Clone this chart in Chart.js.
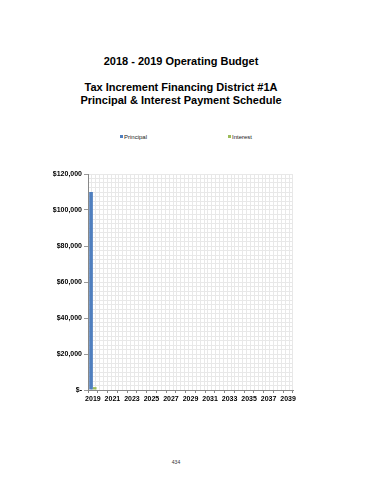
<!DOCTYPE html>
<html>
<head>
<meta charset="utf-8">
<script src="https://cdn.jsdelivr.net/npm/chart.js@4/dist/chart.umd.min.js"></script>
<style>
body { margin: 0; background: #fff; font-family: "Liberation Sans", Arial, sans-serif; }
.page { position: relative; width: 370px; height: 480px; overflow: hidden; }
.t { position: absolute; left: -4px; width: 370px; text-align: center; font-weight: bold; font-size: 11px; line-height: 13px; color: #000; }
.leg { position: absolute; font-size: 6px; line-height: 7px; color: #222; white-space: nowrap; }
.leg i { display: inline-block; width: 3px; height: 3px; margin-right: 1px; vertical-align: 1px; }
.pg { position: absolute; left: 166px; top: 459px; width: 20px; text-align: center; font-size: 5px; color: #333; }
#box { position: absolute; left: 0; top: 160px; width: 370px; height: 250px; }
</style>
</head>
<body>
<div class="page">
  <div class="t" style="top:55px">2018 - 2019 Operating Budget</div>
  <div class="t" style="top:81px">Tax Increment Financing District #1A</div>
  <div class="t" style="top:94px">Principal &amp; Interest Payment Schedule</div>
  <div class="leg" style="left:120px;top:134px"><i style="background:#4f7fbf"></i>Principal</div>
  <div class="leg" style="left:228px;top:134px"><i style="background:#9bbb59"></i>Interest</div>
  <div id="box"><canvas id="grafico" width="370" height="250"></canvas></div>
  <div class="pg">434</div>
</div>
<script>
const anios = ["2019", "2020", "2021", "2022", "2023", "2024", "2025", "2026", "2027", "2028", "2029",
  "2030", "2031", "2032", "2033", "2034", "2035", "2036", "2037", "2038", "2039"];

//principal
const principal = [110000, 0, 0, 0, 0, 0, 0, 0, 0, 0, 0, 0, 0, 0, 0, 0, 0, 0, 0, 0, 0];

//interes
const interes = [1600, 0, 0, 0, 0, 0, 0, 0, 0, 0, 0, 0, 0, 0, 0, 0, 0, 0, 0, 0, 0];

//ticks eje y
const ticksY = [0, 20000, 40000, 60000, 80000, 100000, 120000];

const fuenteTick = { family: "Liberation Sans", size: 7, weight: "bold" };

const graf = document.getElementById("grafico");

const Grafico = new Chart(graf, {
  type: "bar",
  data: {
    labels: anios,
    datasets: [
      {
        label: "Principal",
        data: principal,
        backgroundColor: "#4f7fbf",
        borderWidth: 0,
        xAxisID: "x",
        yAxisID: "y",
      },
      {
        label: "Interest",
        data: interes,
        backgroundColor: "#9bbb59",
        borderWidth: 0,
        xAxisID: "x",
        yAxisID: "y",
      },
    ],
  },
  options: {
    responsive: false,
    animation: false,
    categoryPercentage: 0.75,
    barPercentage: 1,
    layout: { padding: { top: 14, right: 77, left: 0, bottom: 0 } },
    plugins: {
      legend: { display: false },
      tooltip: { enabled: false },
    },
    scales: {
      x: {
        type: "category",
        offset: true,
        weight: 2,
        grid: { drawOnChartArea: false, drawTicks: true, tickLength: 3, color: "#888" },
        border: { color: "#888" },
        ticks: {
          autoSkip: false,
          maxRotation: 0,
          padding: 2,
          color: "#000",
          font: fuenteTick,
          callback: (v, i) => (i % 2 === 0 ? anios[i] : ""),
        },
        afterFit: (s) => { s.height = 20; },
      },
      xMenor: {
        type: "linear",
        position: "bottom",
        min: 0,
        max: 52,
        weight: 1,
        ticks: { display: false, stepSize: 1 },
        grid: { drawTicks: false, color: "#e8e8e8", lineWidth: 1 },
        border: { display: false },
        afterFit: (s) => { s.height = 0; },
      },
      y: {
        min: 0,
        max: 120000,
        weight: 2,
        afterBuildTicks: (s) => { s.ticks = ticksY.map((v) => ({ value: v })); },
        grid: { color: "#9a9a9a", tickLength: 4, drawTicks: true },
        border: { color: "#888" },
        ticks: {
          padding: 2,
          color: "#000",
          font: fuenteTick,
          callback: (v) => (v === 0 ? "$-" : "$" + v.toLocaleString("en-US")),
        },
        afterFit: (s) => { s.width = 88; },
      },
      yMenor: {
        type: "linear",
        position: "left",
        min: 0,
        max: 120000,
        weight: 1,
        ticks: { display: false, stepSize: 2500 },
        grid: { drawTicks: false, color: "#e8e8e8", lineWidth: 1 },
        border: { display: false },
        afterFit: (s) => { s.width = 0; },
      },
    },
  },
});
</script>
</body>
</html>
